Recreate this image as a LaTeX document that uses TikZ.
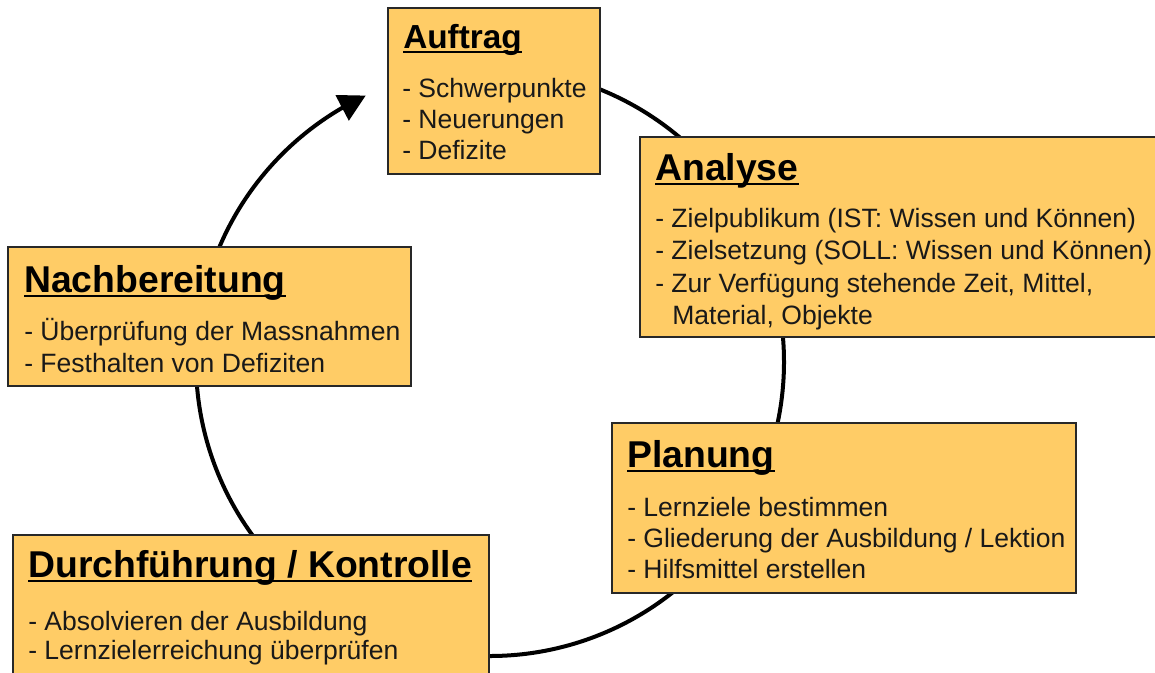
\documentclass[tikz,border=0pt]{standalone}
\usepackage{fontspec}
\setmainfont{Liberation Sans}
\usetikzlibrary{arrows.meta,bending,fit,backgrounds}
\definecolor{boxfill}{RGB}{255,204,102}
\definecolor{boxline}{RGB}{40,40,40}
\begin{document}
\begin{tikzpicture}[x=0.75pt,y=0.75pt,
  box/.style={draw=boxline,line width=1.2pt,fill=boxfill,inner sep=0pt,rectangle},
  ttl/.style={inner sep=0pt,anchor=base west,font=\bfseries\fontsize{28pt}{30pt}\selectfont},
  ttlsmall/.style={ttl,font=\bfseries\fontsize{25pt}{28pt}\selectfont},
  itm/.style={inner sep=0pt,anchor=base west,font=\fontsize{19.9pt}{24pt}\selectfont,text=black!90},
  uline/.style={line width=1.6pt},
  conn/.style={line width=3pt,black},
  arr/.style={conn,-{Triangle[length=20pt,width=21pt,flex]}}]
\useasboundingbox (0,0) rectangle (1155,-672);
\coordinate (c) at (490,-362);
% boxes
\node[box,fit={(388,-8) (600,-174)}] (auftrag) {};
\node[box,fit={(640,-137) (1170,-337)}] (analyse) {};
\node[box,fit={(8,-247) (411,-386)}] (nachb) {};
\node[box,fit={(612,-423) (1076,-593)}] (planung) {};
\node[box,fit={(13,-535) (489,-690)}] (durchf) {};
% connectors (circle arcs, behind the boxes)
\begin{scope}[on background layer]
\draw[conn] ([shift={(75:294)}]c) arc[start angle=75,end angle=40,radius=294];
\draw[conn] ([shift={(10:294)}]c) arc[start angle=10,end angle=-20,radius=294];
\draw[conn] ([shift={(-40:294)}]c) arc[start angle=-40,end angle=-95,radius=294];
\draw[conn] ([shift={(-120:294)}]c) arc[start angle=-120,end angle=-185,radius=294];
\draw[arr] ([shift={(160:294)}]c) arc[start angle=160,end angle=115,radius=294];
\end{scope}
% Auftrag
\node[ttlsmall] (t1) at (403,-48) {Auftrag};
\draw[uline] ([yshift=-3pt]t1.base west) -- ([yshift=-3pt]t1.base east);
\node[itm] (a1) at (402,-97) {- Schwerpunkte};
\node[itm] (a2) at (402,-128) {- Neuerungen};
\node[itm] (a3) at (402,-159) {- Defizite};
% Analyse
\node[ttl] (t2) at (655,-180) {Analyse};
\draw[uline] ([yshift=-3pt]t2.base west) -- ([yshift=-3pt]t2.base east);
\node[itm] (b1) at (655,-227) {- Zielpublikum (IST: Wissen und Können)};
\node[itm] (b2) at (655,-259) {- Zielsetzung (SOLL: Wissen und Können)};
\node[itm] (b3) at (655,-292) {- Zur Verfügung stehende Zeit, Mittel,};
\node[itm] (b4) at (672,-324) {Material, Objekte};
% Nachbereitung
\node[ttl] (t3) at (24,-292) {Nachbereitung};
\draw[uline] ([yshift=-3pt]t3.base west) -- ([yshift=-3pt]t3.base east);
\node[itm] (n1) at (24,-340) {- Überprüfung der Massnahmen};
\node[itm] (n2) at (24,-372) {- Festhalten von Defiziten};
% Planung
\node[ttl] (t4) at (627,-467) {Planung};
\draw[uline] ([yshift=-3pt]t4.base west) -- ([yshift=-3pt]t4.base east);
\node[itm] (p1) at (627,-516) {- Lernziele bestimmen};
\node[itm] (p2) at (627,-547) {- Gliederung der Ausbildung / Lektion};
\node[itm] (p3) at (627,-578) {- Hilfsmittel erstellen};
% Durchfuehrung
\node[ttl] (t5) at (28,-577) {Durchführung / Kontrolle};
\draw[uline] ([yshift=-3pt]t5.base west) -- ([yshift=-3pt]t5.base east);
\node[itm] (d1) at (28,-630) {- Absolvieren der Ausbildung};
\node[itm] (d2) at (28,-659) {- Lernzielerreichung überprüfen};
\end{tikzpicture}
\end{document}
